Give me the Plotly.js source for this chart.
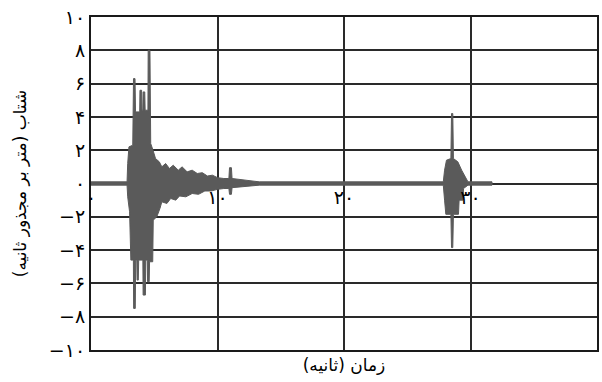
<!DOCTYPE html>
<html>
<head>
<meta charset="utf-8">
<script src="https://cdn.plot.ly/plotly-3.0.1.min.js"></script>
<style>html,body{margin:0;padding:0;background:#fff;}#chart{width:602px;height:382px;}</style>
</head>
<body>
<div id="chart"></div>
<script>
// Envelope of the accelerogram (time in s, acceleration in m/s^2)
const upperTime = [0, 2.85, 2.9, 3.0, 3.3, 3.36, 3.48, 3.52, 3.85, 3.87, 4.0, 4.03, 4.1, 4.12, 4.25, 4.28, 4.5, 4.52, 4.66, 4.72, 4.9, 5.1, 5.4, 5.6, 5.9, 6.2, 6.5, 6.9, 7.2, 7.6, 8.0, 8.4, 8.8, 9.2, 9.6, 10.0, 10.5, 10.9, 10.95, 11.1, 11.15, 11.6, 12.2, 12.8, 13.3, 27.85, 27.95, 28.1, 28.45, 28.5, 28.6, 28.65, 29.0, 29.3, 29.6, 29.8, 31.7];
const upperAcc  = [0.1, 0.1, 1.2, 2.2, 2.3, 6.3, 6.3, 4.3, 4.3, 5.6, 5.6, 4.4, 4.4, 5.5, 5.5, 4.4, 4.4, 8.0, 8.0, 2.4, 2.0, 1.5, 1.3, 1.0, 1.2, 0.9, 1.1, 0.8, 1.0, 0.7, 0.8, 0.6, 0.65, 0.45, 0.5, 0.35, 0.3, 0.3, 0.95, 0.95, 0.3, 0.25, 0.2, 0.15, 0.1, 0.1, 0.8, 1.4, 1.5, 4.2, 4.2, 1.5, 1.3, 0.8, 0.4, 0.1, 0.1];
const lowerTime = [0, 2.85, 2.9, 3.05, 3.15, 3.35, 3.37, 3.5, 3.53, 3.62, 3.64, 3.74, 3.77, 4.1, 4.12, 4.3, 4.33, 4.45, 4.47, 4.6, 4.63, 4.88, 4.92, 5.2, 5.45, 5.6, 6.0, 6.3, 6.7, 7.0, 7.5, 8.0, 8.5, 9.0, 9.5, 10.0, 10.5, 10.9, 10.95, 11.1, 11.15, 11.8, 12.5, 13.3, 27.85, 27.95, 28.05, 28.45, 28.5, 28.6, 28.65, 29.05, 29.1, 29.4, 29.45, 29.8, 31.7];
const lowerAcc  = [-0.1, -0.1, -0.8, -1.7, -4.6, -4.6, -7.5, -7.5, -4.6, -4.6, -5.8, -5.8, -4.6, -4.6, -6.7, -6.7, -4.6, -4.6, -5.9, -5.9, -4.7, -4.7, -2.2, -2.0, -1.5, -1.1, -1.2, -0.9, -1.0, -0.75, -0.8, -0.6, -0.65, -0.45, -0.45, -0.35, -0.3, -0.3, -0.65, -0.65, -0.25, -0.2, -0.15, -0.1, -0.1, -1.0, -1.85, -1.85, -3.85, -3.85, -1.85, -1.85, -1.0, -1.0, -0.3, -0.1, -0.1];

const yTickVals = [-10, -8, -6, -4, -2, 0, 2, 4, 6, 8, 10];
const yTickText = ['−۱۰', '−۸', '−۶', '−۴', '−۲', '۰', '۲', '۴', '۶', '۸', '۱۰'];
const xTickVals = [0, 10, 20, 30, 40];
const xTickText = ['۰', '۱۰', '۲۰', '۳۰', '۴۰'];

const polyX = upperTime.concat(lowerTime.slice().reverse());
const polyY = upperAcc.concat(lowerAcc.slice().reverse());

const signal = {
  x: polyX, y: polyY, type: 'scatter', mode: 'lines',
  fill: 'toself', fillcolor: '#5a5a5a',
  line: {color: '#5a5a5a', width: 1},
  hoverinfo: 'skip', showlegend: false
};
const dummy = {x: [0], y: [0], xaxis: 'x2', yaxis: 'y', mode: 'markers', marker: {opacity: 0}, showlegend: false, hoverinfo: 'skip'};

const font = 'DejaVu Sans, Noto Sans, sans-serif';
const layout = {
  width: 602, height: 382,
  margin: {l: 91, r: 5, t: 17, b: 32},
  paper_bgcolor: '#fff', plot_bgcolor: '#fff',
  font: {family: font, color: '#000'},
  showlegend: false,
  xaxis: {
    range: [0, 40], tickvals: xTickVals, showticklabels: false,
    showgrid: true, gridcolor: '#2a2a2a', gridwidth: 2,
    showline: true, linecolor: '#1a1a1a', linewidth: 2, mirror: true,
    zeroline: false, ticks: '',
    title: {text: 'زمان (ثانیه)', font: {size: 17, family: font, color: '#000'}, standoff: 8}
  },
  xaxis2: {
    range: [0, 40], overlaying: 'x', anchor: 'free', position: 0.5,
    tickvals: xTickVals, ticktext: xTickText, showgrid: false, showline: false,
    zeroline: false, ticks: '', side: 'bottom',
    tickfont: {size: 19, family: font, color: '#000'}
  },
  yaxis: {
    range: [-10, 10], tickvals: yTickVals, ticktext: yTickText,
    showgrid: true, gridcolor: '#2a2a2a', gridwidth: 2,
    showline: true, linecolor: '#1a1a1a', linewidth: 2, mirror: true,
    zeroline: false, ticks: '', ticklen: 0,
    tickfont: {size: 19, family: font, color: '#000'},
    title: {text: 'شتاب (متر بر مجذور ثانیه)', font: {size: 17, family: font, color: '#000'}, standoff: 18}
  }
};
Plotly.newPlot('chart', [signal, dummy], layout, {displayModeBar: false, staticPlot: true});
</script>
</body>
</html>
